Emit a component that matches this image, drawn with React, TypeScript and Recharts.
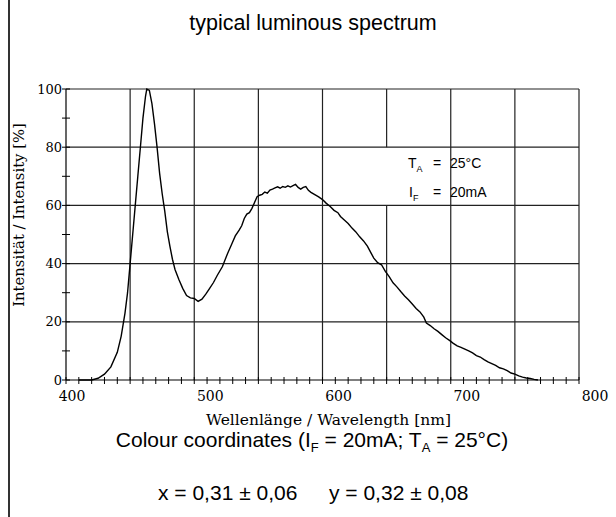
import React from 'react';
import { LineChart, Line, XAxis, YAxis, ReferenceLine } from 'recharts';

// spectrum (nm / % intensity)
const wavelength = [
  410, 415, 420, 425, 430, 435, 440, 443, 446, 448, 450, 452, 454, 456, 458, 460, 462, 463, 465, 467,
  469, 471, 473, 475, 477, 479, 481, 483, 485, 488, 491, 494, 497, 500, 503, 506, 509, 512, 515, 518,
  522, 526, 529, 532, 535, 537, 539, 541, 543, 545, 547, 549, 551, 553, 555, 557, 559, 561, 563, 565,
  567, 569, 571, 573, 575, 577, 579, 581, 583, 585, 587, 589, 591, 594, 597, 600, 603, 606, 609, 612,
  614, 617, 620, 623, 626, 629, 632, 635, 638, 640, 643, 646, 649, 652, 655, 658, 661, 664, 667, 670,
  673, 676, 679, 681, 684, 687, 690, 693, 696, 699, 702, 705, 708, 711, 714, 717, 720, 723, 726, 729,
  732, 735, 738, 741, 744, 747, 750, 753, 756, 759, 762, 765, 768,
];
const intensity = [
  0, 0, 0, 0.6, 2, 4.5, 9.5, 15, 23, 30, 40, 50, 60, 70, 80, 90, 97.5, 100, 99.5, 95,
  88, 80, 71, 64, 58, 51, 46, 41.5, 38, 34.5, 31.5, 29, 28.2, 28, 27, 27.8, 29.5, 31.5, 33.5, 36,
  39, 43.5, 46.5, 49.5, 51.5, 53, 55.5, 57, 57.5, 59, 61, 63, 63.5, 63.8, 64.6, 64.2, 65.3, 65.6, 66, 66.4,
  65.9, 66.5, 66.2, 66.7, 66.3, 66.8, 67.2, 66.2, 65.6, 66.2, 66.5, 65.2, 64.5, 63.7, 62.9, 62, 60.7, 59.6, 58.3, 57.5,
  56.2, 55, 53.8, 52.2, 50.9, 49.2, 47.8, 46, 43.5, 41.9, 40.3, 39.6, 37.3, 35.5, 33.4, 32, 30.4, 28.9, 27.6, 26.1,
  24.6, 23.4, 21.6, 19.6, 18.7, 17.6, 16.7, 15.6, 14.5, 13.6, 12.6, 11.7, 11.2, 10.6, 10, 9.3, 8.4, 7.9, 7, 6.2,
  5.6, 5, 4.2, 3.8, 3.2, 2.4, 2, 1.4, 1, 0.7, 0.5, 0.2, 0,
];

const xTicks = [
  400, 410, 420, 430, 440, 450, 460, 470, 480, 490, 500, 510, 520, 530, 540, 550, 560, 570, 580, 590,
  600, 610, 620, 630, 640, 650, 660, 670, 680, 690, 700, 710, 720, 730, 740, 750, 760, 770, 780, 790, 800,
];
const xLabels = [400, 500, 600, 700, 800];
const yTicks = [0, 10, 20, 30, 40, 50, 60, 70, 80, 90, 100];
const yLabels = [0, 20, 40, 60, 80, 100];
const gridX = [450, 500, 550, 600, 700, 750, 800];
const gridY = [20, 40, 60, 80, 100];
// the 650 nm grid line is broken by the condition box (60..80 %)
const boxX = [600, 700];
const boxY = [60, 80];

const data = wavelength.map((nm, i) => ({ nm, v: intensity[i] }));

const serif = '"DejaVu Serif", serif';
const sans = '"Liberation Sans", Arial, sans-serif';

const XTick = (props: any) => {
  const { x, y, payload } = props;
  const v = payload.value;
  return (
    <g>
      <line x1={x} x2={x} y1={y - 3} y2={y + 4} stroke="#000" strokeWidth={1} />
      {xLabels.includes(v) && (
        <text x={x + (v === 400 ? 6 : 16)} y={y + 21} textAnchor="middle" fontFamily={serif} fontSize={14} fill="#000">
          {v}
        </text>
      )}
    </g>
  );
};

const YTick = (props: any) => {
  const { x, y, payload } = props;
  const v = payload.value;
  return (
    <g>
      <line x1={x - 4} x2={x + 4} y1={y} y2={y} stroke="#000" strokeWidth={1} />
      {yLabels.includes(v) && (
        <text x={x - 4} y={y + 4.5} textAnchor="end" fontFamily={serif} fontSize={13} fill="#000">
          {v}
        </text>
      )}
    </g>
  );
};

export default function App() {
  const gridStroke = '#222';
  const mid = (boxX[0] + boxX[1]) / 2;
  return (
    <div style={{ position: 'absolute', left: 0, top: 0, width: 616, height: 517, background: '#fff' }}>
      <div style={{ position: 'absolute', left: 8, top: 0, width: 2, height: 517, background: '#333' }} />
      <LineChart width={616} height={517} data={data} margin={{ top: 89, right: 37, bottom: 107, left: 26 }}>
        {gridX.map((g) => (
          <ReferenceLine key={`gx${g}`} x={g} stroke={gridStroke} strokeWidth={1.2} />
        ))}
        <ReferenceLine segment={[{ x: mid, y: 0 }, { x: mid, y: boxY[0] }]} stroke={gridStroke} strokeWidth={1.2} />
        <ReferenceLine segment={[{ x: mid, y: boxY[1] }, { x: mid, y: 100 }]} stroke={gridStroke} strokeWidth={1.2} />
        {gridY.map((g) => (
          <ReferenceLine key={`gy${g}`} y={g} stroke={gridStroke} strokeWidth={1.2} />
        ))}
        <XAxis
          dataKey="nm"
          type="number"
          domain={[400, 800]}
          ticks={xTicks}
          interval={0}
          height={30}
          tickSize={0}
          tickMargin={0}
          tickLine={false}
          tick={<XTick />}
          axisLine={{ stroke: '#000', strokeWidth: 1.2 }}
        />
        <YAxis
          type="number"
          domain={[0, 100]}
          ticks={yTicks}
          interval={0}
          width={40}
          tickSize={0}
          tickMargin={0}
          tickLine={false}
          tick={<YTick />}
          axisLine={{ stroke: '#000', strokeWidth: 1.2 }}
        />
        <Line dataKey="v" type="linear" stroke="#000" strokeWidth={1.4} dot={false} isAnimationActive={false} />
      </LineChart>
      <svg width={616} height={517} style={{ position: 'absolute', left: 0, top: 0, pointerEvents: 'none' }}>
        <text x={313} y={30} textAnchor="middle" fontFamily={sans} fontSize={21.5} fill="#000">
          typical luminous spectrum
        </text>
        <text transform="translate(24, 215) rotate(-90)" textAnchor="middle" fontFamily={serif} fontSize={14.8} fill="#000">
          Intensität / Intensity [%]
        </text>
        <text x={206} y={425} fontFamily={serif} fontSize={15.5} fill="#000">
          Wellenlänge / Wavelength [nm]
        </text>
        <text x={312} y={447} textAnchor="middle" fontFamily={sans} fontSize={21} fill="#000">
          Colour coordinates (I<tspan fontSize={13} dy={5}>F</tspan>
          <tspan dy={-5}> = 20mA;  T</tspan>
          <tspan fontSize={13} dy={5}>A</tspan>
          <tspan dy={-5}> = 25°C)</tspan>
        </text>
        <text x={158} y={500} fontFamily={sans} fontSize={21} fill="#000">
          x = 0,31 ± 0,06
        </text>
        <text x={329} y={500} fontFamily={sans} fontSize={21} fill="#000">
          y = 0,32 ± 0,08
        </text>
        <text x={408} y={168} fontFamily={sans} fontSize={14} fill="#000">
          T<tspan fontSize={9} dy={4}>A</tspan>
        </text>
        <text x={433} y={168} fontFamily={sans} fontSize={14} fill="#000">=</text>
        <text x={450} y={168} fontFamily={sans} fontSize={14} fill="#000">25°C</text>
        <text x={409} y={197} fontFamily={sans} fontSize={14} fill="#000">
          I<tspan fontSize={9} dy={4}>F</tspan>
        </text>
        <text x={433} y={197} fontFamily={sans} fontSize={14} fill="#000">=</text>
        <text x={450} y={197} fontFamily={sans} fontSize={14} fill="#000">20mA</text>
      </svg>
    </div>
  );
}
